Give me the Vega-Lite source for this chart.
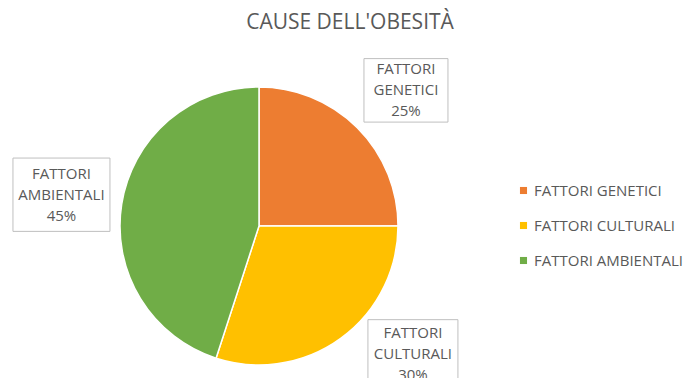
{
  "$schema": "https://vega.github.io/schema/vega-lite/v6.json",
  "autosize": "none",
  "width": 518,
  "height": 278,
  "padding": {"top": 87, "left": 0, "right": 168, "bottom": 13},
  "background": "white",
  "title": {
    "text": "CAUSE DELL'OBESITÀ",
    "font": "Open Sans",
    "fontSize": 21,
    "fontWeight": "normal",
    "color": "#595959",
    "anchor": "middle",
    "dx": 91,
    "offset": 24
  },
  "config": {"view": {"stroke": null}},
  "data": {
    "values": [
      {"n": 1, "cat": "FATTORI GENETICI", "value": 25},
      {"n": 2, "cat": "FATTORI CULTURALI", "value": 30},
      {"n": 3, "cat": "FATTORI AMBIENTALI", "value": 45}
    ]
  },
  "layer": [
    {
      "mark": {"type": "arc", "stroke": "white", "strokeWidth": 1.5},
      "encoding": {
        "theta": {"field": "value", "type": "quantitative", "stack": true},
        "order": {"field": "n", "type": "quantitative"},
        "color": {
          "field": "cat",
          "type": "nominal",
          "sort": ["FATTORI GENETICI", "FATTORI CULTURALI", "FATTORI AMBIENTALI"],
          "scale": {
            "domain": ["FATTORI GENETICI", "FATTORI CULTURALI", "FATTORI AMBIENTALI"],
            "range": ["#ED7D31", "#FFC000", "#70AD47"]
          },
          "legend": {
            "orient": "none",
            "legendX": 516,
            "legendY": 96,
            "title": null,
            "symbolType": "square",
            "symbolSize": 50,
            "symbolStrokeWidth": 0,
            "labelFont": "Open Sans",
            "labelFontSize": 15,
            "labelColor": "#595959",
            "rowPadding": 19,
            "labelOffset": 3
          }
        }
      }
    },
    {
      "transform": [
        {"window": [{"op": "sum", "field": "value", "as": "cum"}], "sort": [{"field": "n"}], "frame": [null, 0]},
        {"joinaggregate": [{"op": "sum", "field": "value", "as": "total"}]},
        {"calculate": "2*PI*(datum.cum - datum.value/2)/datum.total + (datum.cat === 'FATTORI CULTURALI' ? -0.25 : (datum.cat === 'FATTORI GENETICI' ? 0.04 : 0))", "as": "a"},
        {"calculate": "sin(datum.a)", "as": "lx"},
        {"calculate": "cos(datum.a)", "as": "ly"}
      ],
      "layer": [
        {
          "mark": {
            "type": "point",
            "shape": "M-1,-0.756L1,-0.756L1,0.756L-1,0.756Z",
            "filled": true,
            "fill": "white",
            "stroke": "#BFBFBF",
            "strokeWidth": 1,
            "opacity": 1,
            "size": {"expr": "datum.cat === 'FATTORI AMBIENTALI' ? 9409 : (datum.cat === 'FATTORI GENETICI' ? 7056 : 8100)"}
          },
          "encoding": {
            "x": {"field": "lx", "type": "quantitative", "scale": {"domain": [-1.295, 1.295]}, "axis": null},
            "y": {"field": "ly", "type": "quantitative", "scale": {"domain": [-0.695, 0.695]}, "axis": null}
          }
        },
        {
          "transform": [
            {"calculate": "datum.cat + ' ' + datum.value + '%'", "as": "label"}
          ],
          "mark": {
            "type": "text",
            "font": "Open Sans",
            "fontSize": 15,
            "color": "#595959",
            "lineBreak": " ",
            "lineHeight": 21,
            "align": "center",
            "baseline": "middle",
            "dy": -21
          },
          "encoding": {
            "x": {"field": "lx", "type": "quantitative", "scale": {"domain": [-1.295, 1.295]}, "axis": null},
            "y": {"field": "ly", "type": "quantitative", "scale": {"domain": [-0.695, 0.695]}, "axis": null},
            "text": {"field": "label"}
          }
        }
      ]
    }
  ]
}
